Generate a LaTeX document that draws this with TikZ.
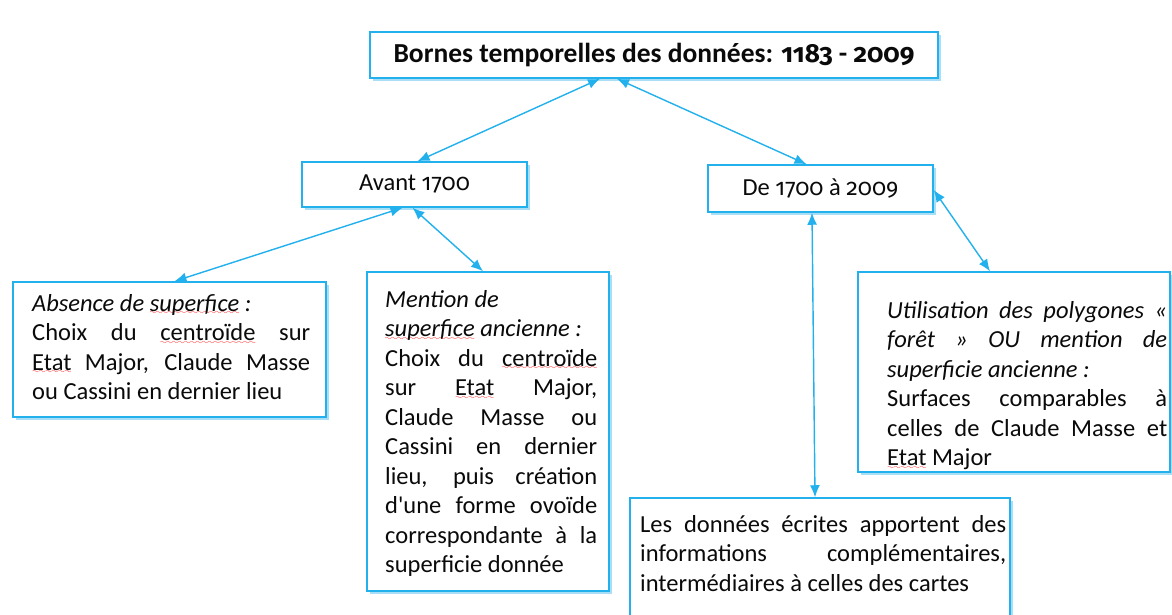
\documentclass[tikz,border=0pt]{standalone}
\usepackage{fontspec}
\setmainfont{Carlito}
\newfontfamily\oldfig{Fira Sans}[Numbers=OldStyle,Scale=0.95]
\usepackage{xcolor}
\usepackage{tikz}
\usetikzlibrary{arrows.meta,shadows}
\definecolor{cCyan}{HTML}{22B1EC}
\definecolor{cShade}{HTML}{A9DFF6}
\definecolor{cInk}{HTML}{0A0A0A}
\font\wavefont=lasy8
\newbox\spellbox
\newcommand\spellmark[1]{\setbox\spellbox\hbox{#1}\leavevmode\rlap{\lower3.5pt\hbox to\wd\spellbox{\color{red}\xleaders\hbox{\wavefont\char58}\hfil}}\box\spellbox}
\newcommand\yr[1]{{\oldfig #1}}
\tikzset{
  frm/.style={draw=cCyan,fill=white,line width=1.5pt,inner sep=0pt,text=cInk,
    drop shadow={shadow xshift=3pt,shadow yshift=-3pt,fill=cShade,opacity=1}},
  txt/.style={anchor=base west,inner sep=0pt,text width=#1,align=justify,text=cInk,
    font=\fontsize{24.5}{29.5}\selectfont},
  darr/.style={{Latex[length=12pt,width=10pt]}-{Latex[length=12pt,width=10pt]},line width=1.4pt,color=cCyan},
}

\begin{document}
\begin{tikzpicture}[x=1pt,y=-1pt]
  \useasboundingbox[fill=white] (0,0) rectangle (1172,615);
  % frames
  \node[frm,minimum width=568pt,minimum height=46pt,font=\fontsize{27.5}{30}\selectfont\bfseries] (top) at (654,55) {Bornes temporelles des données: \yr{1183} - \yr{2009}};
  \node[frm,minimum width=225pt,minimum height=45pt,font=\fontsize{24.5}{29.5}\selectfont] (avant) at (414.5,184.5) {Avant \yr{1700}};
  \node[frm,minimum width=225pt,minimum height=47pt,font=\fontsize{24.5}{29.5}\selectfont] (apres) at (820.5,188.5) {De \yr{1700} à \yr{2009}};
  \node[frm,minimum width=313pt,minimum height=135pt] (absence) at (169.5,349.5) {};
  \node[frm,minimum width=242pt,minimum height=319pt] (mention) at (488,431.5) {};
  \node[frm,minimum width=312pt,minimum height=200pt] (polyg) at (1014,372) {};
  \node[frm,minimum width=380pt,minimum height=140pt] (ecrits) at (820,568) {};
  % texts
  \node[txt=278pt] (absenceT) at (32,311) {\textit{Absence de \spellmark{superfice}~:}\\
    Choix du \spellmark{centroïde} sur\linebreak \spellmark{Etat} Major, Claude Masse\linebreak ou Cassini en dernier lieu};
  \node[txt=212pt] (mentionT) at (385,307) {\textit{Mention de}\\\textit{\spellmark{superfice} ancienne~:}\\
    Choix du \spellmark{centroïde}\linebreak sur \spellmark{Etat} Major,\linebreak Claude Masse ou\linebreak Cassini en dernier\linebreak lieu, puis création\linebreak d\textquotesingle une forme ovoïde\linebreak correspondante à la\linebreak superficie donnée};
  \node[txt=280pt] (polygT) at (887,318) {\textit{Utilisation des polygones «\linebreak forêt » OU mention de\linebreak superficie ancienne~:}\\
    Surfaces comparables à\linebreak celles de Claude Masse et\linebreak \spellmark{Etat} Major};
  \node[txt=366pt] (ecritsT) at (640,532) {Les données écrites apportent des\linebreak informations complémentaires,\linebreak intermédiaires à celles des cartes};
  % connectors
  \draw[darr] ([xshift=-54pt]top.south) -- ([xshift=3pt]avant.north);
  \draw[darr] ([xshift=-37pt]top.south) -- ([xshift=-14pt]apres.north);
  \draw[darr] ([xshift=-12pt]avant.south) -- ([xshift=5pt]absence.north);
  \draw[darr] ([xshift=-2pt]avant.south) -- ([xshift=-5pt]mention.north);
  \draw[darr] ([yshift=-1.5pt]apres.east) -- ([xshift=-24pt]polyg.north);
  \draw[darr] ([xshift=-8.5pt]apres.south) -- ([xshift=-5pt]ecrits.north);
\end{tikzpicture}
\end{document}
